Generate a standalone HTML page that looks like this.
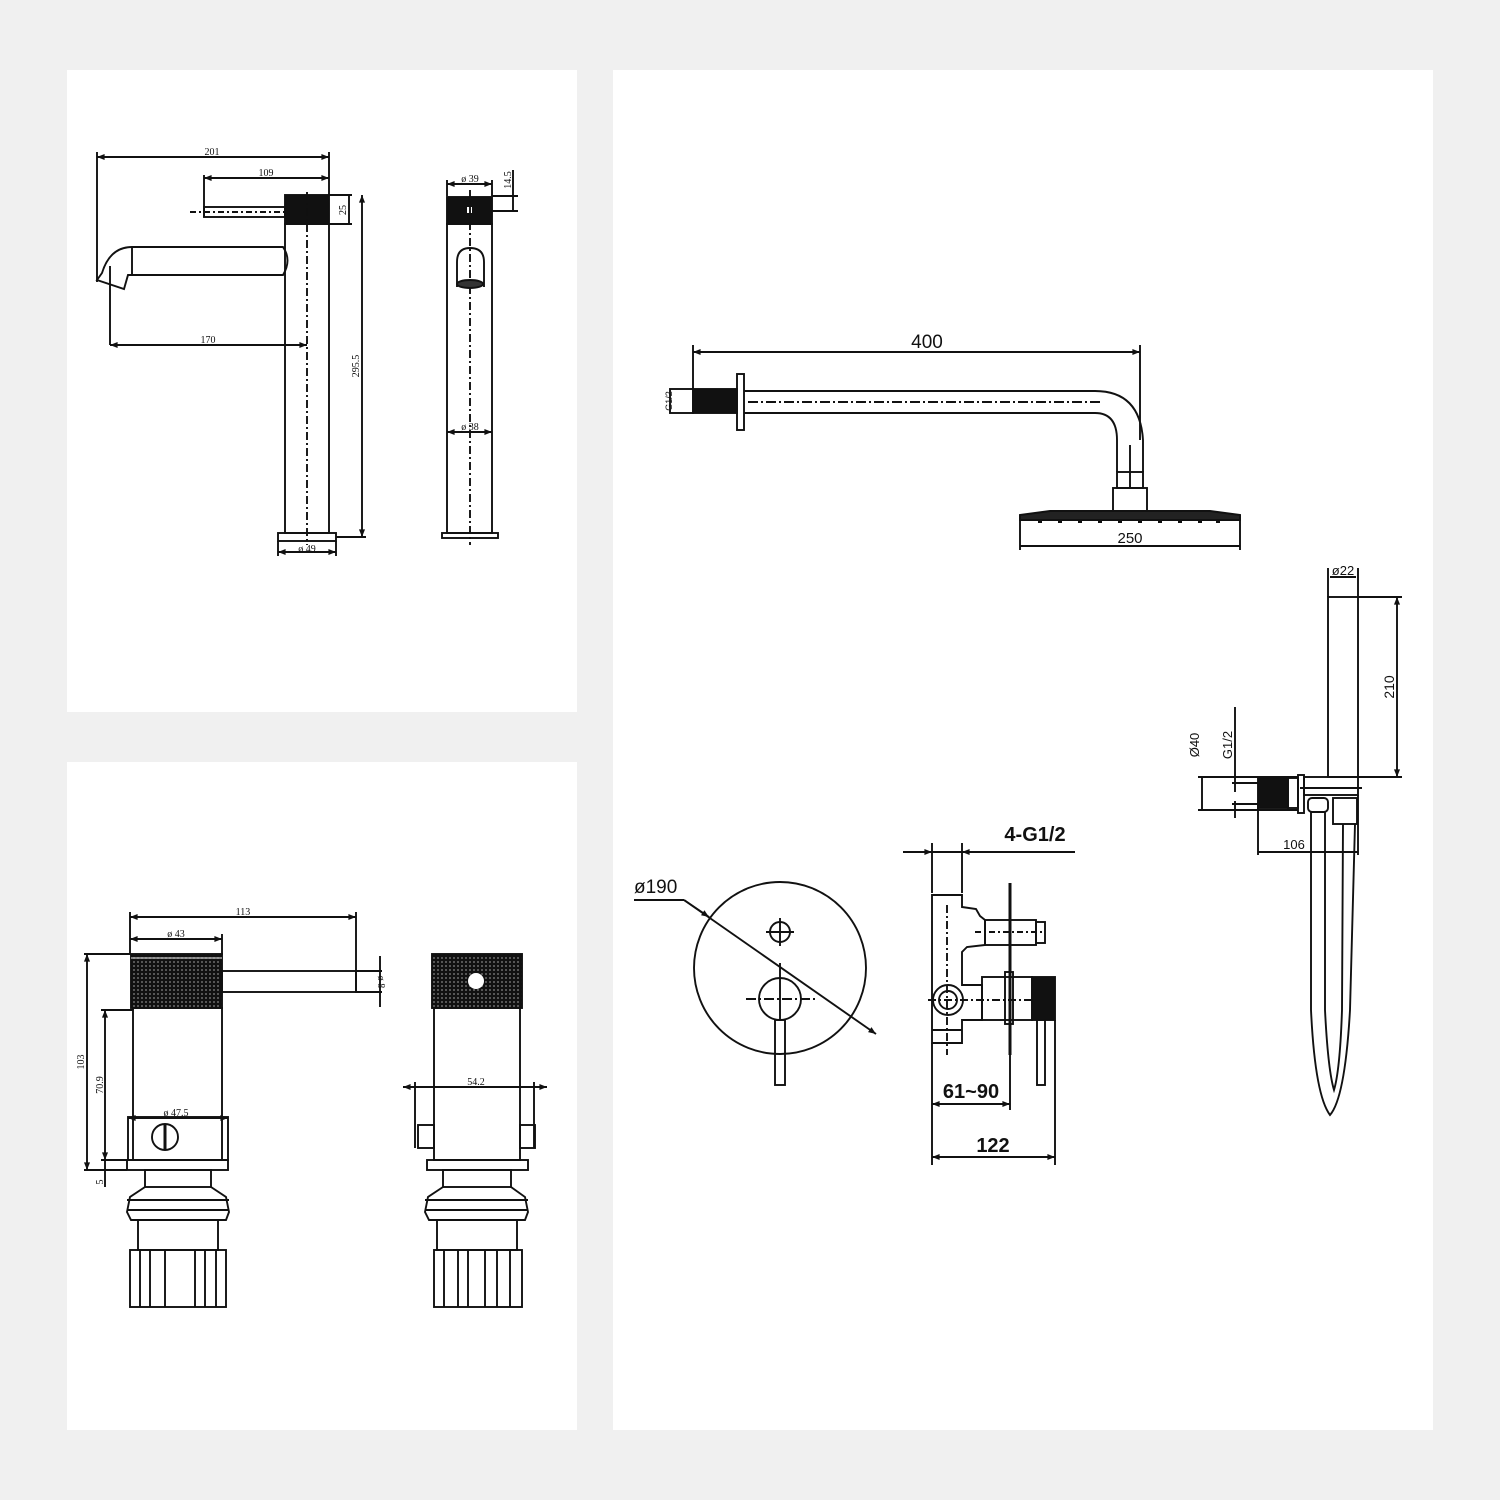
<!DOCTYPE html>
<html><head><meta charset="utf-8"><style>
html,body{margin:0;padding:0;background:#f0f0f0;}
svg{display:block}
</style></head><body>
<svg width="1500" height="1500" viewBox="0 0 1500 1500" xmlns="http://www.w3.org/2000/svg" font-family="Liberation Serif, serif">
<defs>
<marker id="a" viewBox="0 0 10 10" refX="10" refY="5" markerWidth="6" markerHeight="4" orient="auto-start-reverse"><path d="M0,1 L10,5 L0,9z" fill="#111"/></marker>
<pattern id="k" width="4" height="4" patternUnits="userSpaceOnUse"><rect width="4" height="4" fill="#111"/><circle cx="2" cy="2" r="0.9" fill="#888"/></pattern>
</defs>
<rect width="1500" height="1500" fill="#f0f0f0"/>
<rect x="67" y="70" width="510" height="642" fill="#fff"/>
<rect x="67" y="762" width="510" height="668" fill="#fff"/>
<rect x="613" y="70" width="820" height="1360" fill="#fff"/>

<g stroke="#111" stroke-width="1.9" fill="none">
<!-- TOP LEFT side view -->
<line x1="97" y1="152" x2="97" y2="282"/>
<line x1="329" y1="152" x2="329" y2="195"/>
<line x1="97" y1="157" x2="329" y2="157" marker-start="url(#a)" marker-end="url(#a)"/>
<line x1="204" y1="175" x2="204" y2="217"/>
<line x1="204" y1="178" x2="329" y2="178" marker-start="url(#a)" marker-end="url(#a)"/>
<rect x="285" y="195" width="44" height="29" fill="#111"/>
<rect x="204" y="207" width="81" height="10"/>
<line x1="190" y1="212" x2="285" y2="212" stroke-dasharray="6,3,2,3"/>
<rect x="285" y="224" width="44" height="309"/>
<rect x="278" y="533" width="58" height="8"/>
<line x1="307" y1="192" x2="307" y2="545" stroke-dasharray="8,3,2,3"/>
<path d="M132,247 L283,247 Q292,260 283,275 L132,275"/>
<line x1="132" y1="247" x2="132" y2="275"/>
<path d="M132,247 Q110,247 102,273 L97,280 L124,289 L128,275 Q128,275 132,275"/>
<line x1="110" y1="266" x2="110" y2="345"/>
<line x1="110" y1="345" x2="307" y2="345" marker-start="url(#a)" marker-end="url(#a)"/>
<line x1="329" y1="195" x2="352" y2="195"/>
<line x1="329" y1="224" x2="352" y2="224"/>
<line x1="349" y1="195" x2="349" y2="224"/>
<line x1="336" y1="537" x2="366" y2="537"/>
<line x1="362" y1="195" x2="362" y2="537" marker-start="url(#a)" marker-end="url(#a)"/>
<line x1="278" y1="541" x2="278" y2="556"/><line x1="336" y1="541" x2="336" y2="556"/>
<line x1="278" y1="552" x2="336" y2="552" marker-start="url(#a)" marker-end="url(#a)"/>

<!-- TOP LEFT front view -->
<line x1="447" y1="180" x2="447" y2="196"/><line x1="492" y1="180" x2="492" y2="196"/>
<line x1="447" y1="184" x2="492" y2="184" marker-start="url(#a)" marker-end="url(#a)"/>
<rect x="447" y="197" width="45" height="27" fill="#111"/>
<rect x="467" y="207" width="5" height="6" fill="#fff" stroke="none"/>
<rect x="447" y="224" width="45" height="309"/>
<rect x="442" y="533" width="56" height="5"/>
<line x1="470" y1="190" x2="470" y2="545" stroke-dasharray="8,3,2,3"/>
<path d="M457,287 L457,262 Q457,248 470,248 Q484,248 484,262 L484,287"/>
<ellipse cx="470" cy="284" rx="13" ry="4" fill="#333"/>
<line x1="447" y1="432" x2="492" y2="432" marker-start="url(#a)" marker-end="url(#a)"/>
<line x1="492" y1="196" x2="518" y2="196"/><line x1="492" y1="211" x2="518" y2="211"/>
<line x1="513" y1="170" x2="513" y2="211"/>

<!-- BOTTOM LEFT side -->
<line x1="130" y1="912" x2="130" y2="955"/><line x1="356" y1="912" x2="356" y2="993"/>
<line x1="130" y1="917" x2="356" y2="917" marker-start="url(#a)" marker-end="url(#a)"/>
<line x1="222" y1="934" x2="222" y2="955"/>
<line x1="130" y1="939" x2="222" y2="939" marker-start="url(#a)" marker-end="url(#a)"/>
<rect x="131" y="954" width="91" height="54" fill="url(#k)" stroke="#111"/>
<line x1="131" y1="958" x2="222" y2="958" stroke="#eee" stroke-width="1"/>
<rect x="222" y="971" width="134" height="21"/>
<line x1="356" y1="971" x2="382" y2="971"/><line x1="356" y1="992" x2="382" y2="992"/>
<line x1="380" y1="956" x2="380" y2="1007"/>
<rect x="133" y="1008" width="89" height="152"/>
<rect x="128" y="1117" width="100" height="43"/>
<line x1="128" y1="1118" x2="228" y2="1118" marker-start="url(#a)" marker-end="url(#a)"/>
<circle cx="165" cy="1137" r="13"/>
<line x1="165" y1="1124" x2="165" y2="1150" stroke-width="3"/>
<rect x="127" y="1160" width="101" height="10"/>
<rect x="145" y="1170" width="66" height="17"/>
<path d="M145,1187 L130,1197 L127,1212 L131,1220 L226,1220 L229,1212 L226,1197 L211,1187"/>
<line x1="127" y1="1200" x2="229" y2="1200"/><line x1="127" y1="1210" x2="229" y2="1210"/>
<rect x="138" y="1220" width="80" height="30"/>
<rect x="130" y="1250" width="96" height="57"/>
<path d="M140,1250V1307M150,1250V1307M165,1250V1307M195,1250V1307M205,1250V1307M216,1250V1307"/>
<line x1="84" y1="954" x2="131" y2="954"/><line x1="84" y1="1170" x2="127" y2="1170"/>
<line x1="87" y1="954" x2="87" y2="1170" marker-start="url(#a)" marker-end="url(#a)"/>
<line x1="101" y1="1010" x2="133" y2="1010"/><line x1="101" y1="1160" x2="127" y2="1160"/>
<line x1="105" y1="1010" x2="105" y2="1160" marker-start="url(#a)" marker-end="url(#a)"/>
<line x1="105" y1="1160" x2="105" y2="1187"/>

<!-- BOTTOM LEFT front -->
<rect x="432" y="954" width="90" height="54" fill="url(#k)" stroke="#111"/>
<circle cx="476" cy="981" r="8" fill="#fff" stroke="none"/>
<rect x="434" y="1008" width="86" height="152"/>
<rect x="418" y="1125" width="16" height="23"/><rect x="520" y="1125" width="15" height="23"/>
<line x1="403" y1="1087" x2="547" y2="1087" marker-start="url(#a)" marker-end="url(#a)"/>
<line x1="415" y1="1082" x2="415" y2="1148"/><line x1="534" y1="1082" x2="534" y2="1148"/>
<rect x="427" y="1160" width="101" height="10"/>
<rect x="443" y="1170" width="68" height="17"/>
<path d="M443,1187 L428,1197 L425,1212 L429,1220 L525,1220 L528,1212 L525,1197 L511,1187"/>
<line x1="425" y1="1200" x2="528" y2="1200"/><line x1="425" y1="1210" x2="528" y2="1210"/>
<rect x="437" y="1220" width="80" height="30"/>
<rect x="434" y="1250" width="88" height="57"/>
<path d="M444,1250V1307M458,1250V1307M468,1250V1307M485,1250V1307M497,1250V1307M510,1250V1307"/>

<!-- SHOWER ARM -->
<line x1="693" y1="345" x2="693" y2="389"/>
<line x1="1140" y1="345" x2="1140" y2="440"/>
<line x1="693" y1="352" x2="1140" y2="352" marker-start="url(#a)" marker-end="url(#a)"/>
<rect x="670" y="389" width="23" height="24"/>
<rect x="693" y="389" width="44" height="24" fill="#111"/>
<rect x="737" y="374" width="7" height="56"/>
<path d="M744,391 L1095,391 Q1140,391 1143,440 L1143,472"/>
<path d="M744,413 L1095,413 Q1117,413 1117,440 L1117,472"/>
<line x1="748" y1="402" x2="1100" y2="402" stroke-dasharray="10,3,2,3"/>
<rect x="1117" y="472" width="26" height="16"/>
<line x1="1130" y1="445" x2="1130" y2="488"/>
<rect x="1113" y="488" width="34" height="25"/>
<path d="M1020,520 L1020,515 L1050,511 L1210,511 L1240,515 L1240,520 Z" fill="#222"/>
<g fill="#111" stroke="none">
<rect x="1038" y="519" width="4" height="4"/><rect x="1058" y="519" width="4" height="4"/><rect x="1078" y="519" width="4" height="4"/><rect x="1098" y="519" width="4" height="4"/><rect x="1118" y="519" width="4" height="4"/><rect x="1138" y="519" width="4" height="4"/><rect x="1158" y="519" width="4" height="4"/><rect x="1178" y="519" width="4" height="4"/><rect x="1198" y="519" width="4" height="4"/><rect x="1216" y="519" width="4" height="4"/>
</g>
<line x1="1020" y1="515" x2="1020" y2="550"/><line x1="1240" y1="515" x2="1240" y2="550"/>
<line x1="1020" y1="546" x2="1240" y2="546"/>

<!-- MIXER front -->
<circle cx="780" cy="968" r="86"/>
<circle cx="780" cy="932" r="10"/>
<line x1="766" y1="932" x2="794" y2="932"/><line x1="780" y1="918" x2="780" y2="946"/>
<circle cx="780" cy="999" r="21"/>
<line x1="746" y1="999" x2="815" y2="999" stroke-dasharray="10,3,2,3"/>
<line x1="780" y1="963" x2="780" y2="1020"/>
<rect x="775" y="1020" width="10" height="65"/>
<line x1="634" y1="900" x2="684" y2="900"/>
<line x1="684" y1="900" x2="876" y2="1034" marker-end="url(#a)"/>
<line x1="684" y1="900" x2="709" y2="917" marker-end="url(#a)"/>

<!-- MIXER side -->
<line x1="903" y1="852" x2="1075" y2="852"/>
<line x1="903" y1="852" x2="932" y2="852" marker-end="url(#a)"/>
<line x1="990" y1="852" x2="962" y2="852" marker-end="url(#a)"/>
<line x1="932" y1="843" x2="932" y2="893"/><line x1="962" y1="843" x2="962" y2="893"/>
<path d="M932,895 L962,895 L962,907 L976,909 L980,916 L985,920 L985,945 L967,947 L962,952 L962,985 L982,985 L982,1020 L962,1020 L962,1030 L932,1030 Z M932,1030 L932,1043 L962,1043 L962,1030"/>
<rect x="985" y="920" width="25" height="25"/>
<rect x="1010" y="920" width="26" height="25"/>
<rect x="1036" y="922" width="9" height="21"/>
<line x1="975" y1="932" x2="1045" y2="932" stroke-dasharray="6,3,2,3"/>
<line x1="947" y1="905" x2="947" y2="1055" stroke-dasharray="8,3,2,3"/>
<circle cx="948" cy="1000" r="15"/><circle cx="948" cy="1000" r="9"/>
<line x1="928" y1="1000" x2="1035" y2="1000" stroke-dasharray="8,3,2,3"/>
<line x1="1010" y1="883" x2="1010" y2="1055" stroke-width="3"/>
<rect x="982" y="977" width="50" height="43"/>
<rect x="1005" y="972" width="8" height="52"/>
<rect x="1032" y="977" width="23" height="43" fill="#111"/>
<rect x="1037" y="1020" width="8" height="65"/>
<line x1="932" y1="1043" x2="932" y2="1165"/>
<line x1="1010" y1="1055" x2="1010" y2="1110"/>
<line x1="1055" y1="1020" x2="1055" y2="1165"/>
<line x1="932" y1="1104" x2="1010" y2="1104" marker-start="url(#a)" marker-end="url(#a)"/>
<line x1="932" y1="1157" x2="1055" y2="1157" marker-start="url(#a)" marker-end="url(#a)"/>

<!-- HAND SHOWER -->
<line x1="1328" y1="568" x2="1328" y2="597"/><line x1="1358" y1="568" x2="1358" y2="597"/>
<line x1="1330" y1="577" x2="1356" y2="577"/>
<rect x="1328" y="597" width="30" height="180"/>
<line x1="1358" y1="597" x2="1402" y2="597"/><line x1="1358" y1="777" x2="1402" y2="777"/>
<line x1="1397" y1="597" x2="1397" y2="777" marker-start="url(#a)" marker-end="url(#a)"/>
<line x1="1198" y1="777" x2="1298" y2="777"/><line x1="1198" y1="810" x2="1298" y2="810"/>
<line x1="1202" y1="777" x2="1202" y2="810"/>
<line x1="1235" y1="707" x2="1235" y2="792"/><line x1="1235" y1="801" x2="1235" y2="818"/>
<line x1="1232" y1="783" x2="1258" y2="783"/><line x1="1232" y1="804" x2="1258" y2="804"/>
<rect x="1258" y="778" width="30" height="30" fill="#111"/>
<rect x="1288" y="778" width="10" height="30"/>
<rect x="1298" y="775" width="6" height="38"/>
<rect x="1304" y="777" width="54" height="18"/>
<line x1="1300" y1="788" x2="1362" y2="788"/>
<line x1="1258" y1="805" x2="1258" y2="855"/>
<line x1="1358" y1="795" x2="1358" y2="855"/>
<line x1="1258" y1="852" x2="1358" y2="852"/>
<rect x="1308" y="798" width="20" height="14" rx="4"/>
<rect x="1333" y="798" width="24" height="26"/>
<path d="M1311,812 L1311,1010 Q1315,1095 1330,1115 Q1345,1098 1350,1010 L1355,824"/>
<path d="M1325,812 L1325,1010 Q1328,1070 1334,1090 Q1340,1070 1342,1010 L1343,824"/>
</g>

<g fill="#111" font-size="10">
<text x="212" y="155" text-anchor="middle">201</text>
<text x="266" y="176" text-anchor="middle">109</text>
<text x="208" y="343" text-anchor="middle">170</text>
<text x="307" y="552" text-anchor="middle">ø 49</text>
<text x="470" y="182" text-anchor="middle">ø 39</text>
<text x="470" y="430" text-anchor="middle">ø 38</text>
<text transform="translate(346,210) rotate(-90)" text-anchor="middle">25</text>
<text transform="translate(359,366) rotate(-90)" text-anchor="middle">295.5</text>
<text transform="translate(511,180) rotate(-90)" text-anchor="middle">14.5</text>
<text x="243" y="915" text-anchor="middle">113</text>
<text x="176" y="937" text-anchor="middle">ø 43</text>
<text x="176" y="1116" text-anchor="middle">ø 47.5</text>
<text x="476" y="1085" text-anchor="middle">54.2</text>
<text transform="translate(84,1062) rotate(-90)" text-anchor="middle">103</text>
<text transform="translate(103,1085) rotate(-90)" text-anchor="middle">70.9</text>
<text transform="translate(103,1182) rotate(-90)" text-anchor="middle">5</text>
<text transform="translate(378,982) rotate(90)" text-anchor="middle">ø 8</text>
</g>
<g fill="#111" font-family="Liberation Sans, sans-serif">
<text x="927" y="348" font-size="19" text-anchor="middle">400</text>
<text x="1130" y="543" font-size="15" text-anchor="middle">250</text>
<text transform="translate(672,401) rotate(-90)" font-size="9" text-anchor="middle">G1/2</text>
<text x="1343" y="575" font-size="13" text-anchor="middle">ø22</text>
<text transform="translate(1394,687) rotate(-90)" font-size="14" text-anchor="middle">210</text>
<text transform="translate(1199,745) rotate(-90)" font-size="13" text-anchor="middle">Ø40</text>
<text transform="translate(1232,745) rotate(-90)" font-size="13" text-anchor="middle">G1/2</text>
<text x="1294" y="849" font-size="13" text-anchor="middle">106</text>
<text x="634" y="893" font-size="19">ø190</text>
<text x="1035" y="841" font-size="20" font-weight="bold" text-anchor="middle">4-G1/2</text>
<text x="971" y="1098" font-size="20" font-weight="bold" text-anchor="middle">61~90</text>
<text x="993" y="1152" font-size="20" font-weight="bold" text-anchor="middle">122</text>
</g>
</svg>
</body></html>
